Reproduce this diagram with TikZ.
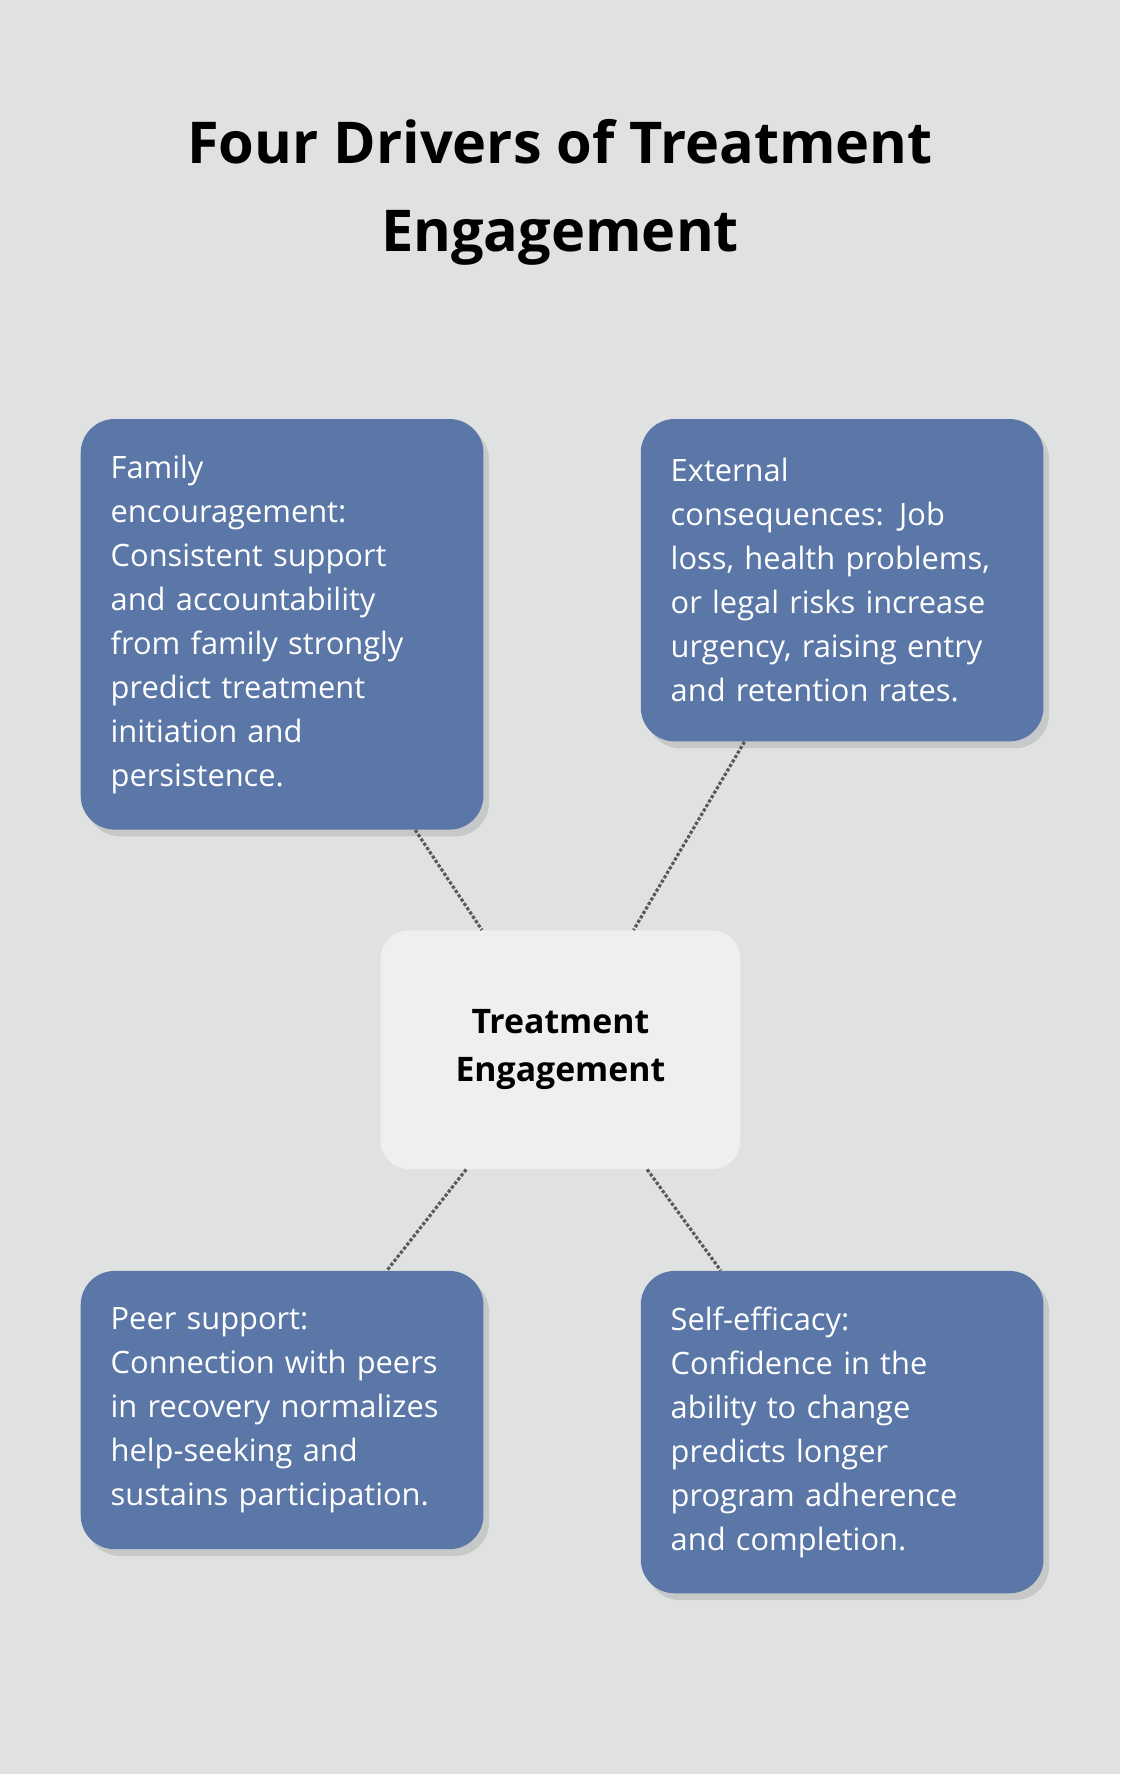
\documentclass[tikz,border=0pt]{standalone}
\usepackage{fontspec}
\setmainfont{Open Sans}
\usetikzlibrary{calc,shadows}
\definecolor{bgcol}{HTML}{E0E2E1}
\definecolor{boxcol}{HTML}{5B77A8}
\definecolor{ctrcol}{HTML}{EEEFF1}
\tikzset{
  driver/.style={anchor=north west,fill=boxcol,rounded corners=0.6cm,text=white,
    align=left,text width=6.06cm,inner xsep=0.53cm,minimum width=7.06cm,
    font=\fontsize{15.5}{22.1}\selectfont,
    drop shadow={shadow xshift=0.1cm,shadow yshift=-0.12cm,opacity=0.25}},
  link/.style={densely dotted,line width=1.6pt,draw=black!65}
}
\begin{document}
\begin{tikzpicture}[x=0.02cm,y=-0.02cm]
	%background
	\fill[bgcol] (0,0) rectangle (990,1568);
	\useasboundingbox (0,0) rectangle (990,1568);

	%title
	\node[font=\fontsize{29}{44}\selectfont\bfseries,align=center] (title) at (495,170)
	  {Four Drivers of Treatment\\Engagement};

	%boxes
	\node[driver,minimum height=7.26cm] (fam) at (71,370) {Family\\encouragement:\\Consistent support\\and accountability\\from family strongly\\predict treatment\\initiation and\\persistence.};
	\node[driver,minimum height=5.7cm] (ext) at (566,370) {External\\consequences: Job\\loss, health problems,\\or legal risks increase\\urgency, raising entry\\and retention rates.};
	\node[driver,minimum height=4.92cm] (peer) at (71,1123) {Peer support:\\Connection with peers\\in recovery normalizes\\help-seeking and\\sustains participation.};
	\node[driver,minimum height=5.7cm] (self) at (566,1123) {Self-efficacy:\\Confidence in the\\ability to change\\predicts longer\\program adherence\\and completion.};

	%centre
	\node[anchor=north west,fill=ctrcol,rounded corners=0.5cm,minimum width=6.36cm,
	  minimum height=4.22cm,align=center,font=\fontsize{17}{24}\selectfont\bfseries] (ctr) at (336,822)
	  {Treatment\\Engagement};

	%dotted links
	\draw[link] ($(fam.south west)+(296,0)$) -- ($(ctr.north west)+(90,0)$);
	\draw[link] ($(ext.south west)+(92,0)$) -- ($(ctr.north west)+(224,0)$);
	\draw[link] ($(ctr.south west)+(76,0)$) -- ($(peer.north west)+(271,0)$);
	\draw[link] ($(ctr.south west)+(236,0)$) -- ($(self.north west)+(71,0)$);
\end{tikzpicture}
\end{document}
